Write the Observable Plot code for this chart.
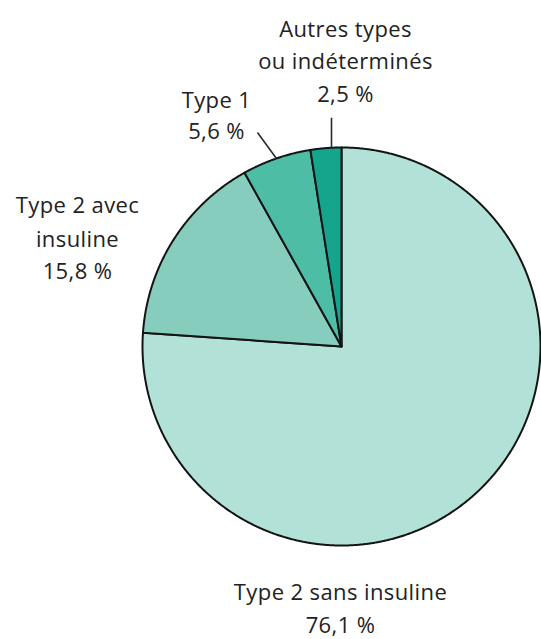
<!DOCTYPE html>
<html><head><meta charset="utf-8">
<script src="https://cdn.jsdelivr.net/npm/d3@7"></script>
<script src="https://cdn.jsdelivr.net/npm/@observablehq/plot@0.6"></script>
<style>
html,body{margin:0;padding:0;background:#fff}
#chart svg text{letter-spacing:0.4px}
</style>
</head><body><div id="chart"></div>
<script>
// ---- data ----
const categories = ["Type 2 sans insuline", "Type 2 avec insuline", "Type 1", "Autres types ou indéterminés"];
const shares = [76.1, 15.8, 5.6, 2.5];
const valueLabels = ["76,1 %", "15,8 %", "5,6 %", "2,5 %"];
const labelLines = [["Type 2 sans insuline"], ["Type 2 avec", "insuline"], ["Type 1"], ["Autres types", "ou indéterminés"]];
const colors = ["#b2e2d7", "#86cdbd", "#4ebda6", "#14a58c"];

// ---- layout ----
const W = 541, H = 639;
const cx = 341, cy = 346, R = 199;
const labelLayout = [
  {x: 340, baselines: [599, 632]},
  {x: 77, baselines: [212, 246, 278]},
  {x: 216, baselines: [107, 138]},
  {x: 345, baselines: [36, 68, 101]}
];

const total = d3.sum(shares);
const pt = (deg, r = R) => {
  const a = deg * Math.PI / 180;
  return [cx + r * Math.sin(a), cy - r * Math.cos(a)];
};

// slice polygons, clockwise from 12 o'clock
const slicePts = [];
const slices = [];
let acc = 0;
categories.forEach((c, i) => {
  const a0 = acc / total * 360, a1 = (acc + shares[i]) / total * 360;
  acc += shares[i];
  slices.push({cat: c, a0, a1, mid: (a0 + a1) / 2});
  slicePts.push({cat: c, x: cx, y: cy});
  const n = Math.max(2, Math.ceil((a1 - a0) / 0.25));
  for (let k = 0; k <= n; k++) {
    const [x, y] = pt(a0 + (a1 - a0) * k / n);
    slicePts.push({cat: c, x, y});
  }
  slicePts.push({cat: c, x: cx, y: cy});
});

// leader lines for the two small slices
const sAutres = slices[3], sT1 = slices[2];
const pA = pt(sAutres.a0 + (sAutres.a1 - sAutres.a0) * 0.68);
const pT = pt(sT1.mid);
const leaders = [
  {x1: pA[0], y1: pA[1], x2: pA[0], y2: pA[1] - 30},
  {x1: pT[0], y1: pT[1], x2: pT[0] - 19, y2: pT[1] - 26}
];

// text rows
const textRows = [];
categories.forEach((c, i) => {
  const lines = labelLines[i].concat([valueLabels[i]]);
  lines.forEach((t, j) => textRows.push({text: t, x: labelLayout[i].x, y: labelLayout[i].baselines[j]}));
});

const chart = Plot.plot({
  width: W, height: H,
  margin: 0,
  x: {domain: [0, W], range: [0, W], axis: null},
  y: {domain: [0, H], range: [0, H], axis: null},
  color: {domain: categories, range: colors},
  style: {background: "#fff"},
  marks: [
    Plot.line(slicePts, {x: "x", y: "y", z: "cat", fill: "cat", stroke: "#141414", strokeWidth: 2, strokeLinejoin: "round", curve: "linear"}),
    Plot.link(leaders, {x1: "x1", y1: "y1", x2: "x2", y2: "y2", stroke: "#2a2a2a", strokeWidth: 1.6}),
    Plot.text(textRows, {x: "x", y: "y", text: "text", textAnchor: "middle", lineAnchor: "bottom",
      fontFamily: "Open Sans", fontSize: 22, fill: "#222"})
  ]
});
document.getElementById("chart").appendChild(chart);
</script>
</body></html>
